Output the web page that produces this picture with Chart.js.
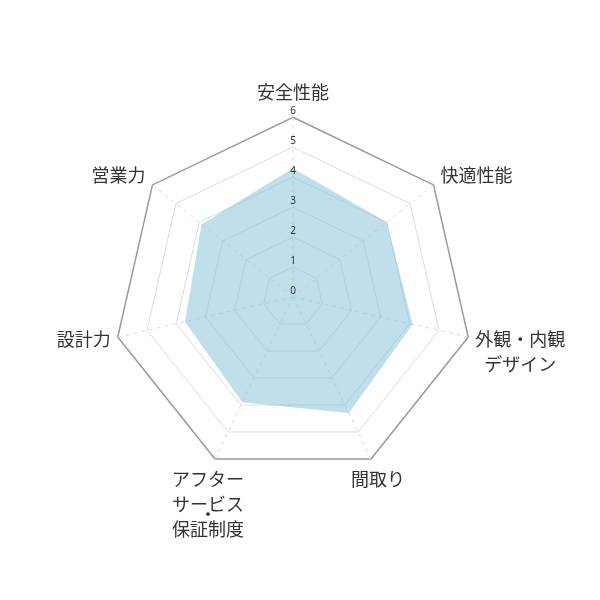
<!DOCTYPE html>
<html lang="ja">
<head>
<meta charset="utf-8">
<script src="https://cdn.jsdelivr.net/npm/chart.js@4.4.1/dist/chart.umd.min.js"></script>
<style>
  html, body { margin: 0; padding: 0; background: #fff; }
  .chart-container { width: 600px; height: 600px; }
</style>
</head>
<body>
<div class="chart-container"><canvas id="myChart"></canvas></div>
<script>
const categories = ['安全性能', '快適性能', ['外観・内観', 'デザイン'], '間取り', ['アフター', 'サービス', '・', '保証制度'], '設計力', '営業力'];
const scores = [4.3, 4.0, 4.1, 4.3, 3.9, 3.7, 3.9];
const tickValues = [0, 1, 2, 3, 4, 5, 6];

const fontFamily = "'Noto Sans CJK JP', 'Noto Sans', sans-serif";
const lineH = 25;

// chart.js sizes the label boxes; the dot line is squeezed in between, so leave it out there
const layoutLabels = categories.map(c => Array.isArray(c) ? c.filter(l => l !== '・') : c);

// draw the point labels (lines centred in their block) and the ticks a bit above the rings
const labelPlugin = {
  id: 'centredLabels',
  afterDatasetsDraw(chart) {
    const scale = chart.scales.r;
    const ctx = chart.ctx;
    ctx.save();
    ctx.textAlign = 'center';
    ctx.textBaseline = 'middle';
    ctx.fillStyle = '#333';

    ctx.font = "10px 'Noto Sans', sans-serif";
    tickValues.forEach(v => {
      const d = scale.getDistanceFromCenterForValue(v);
      ctx.fillText(String(v), scale.xCenter, scale.yCenter - d - 6);
    });

    ctx.font = '18px ' + fontFamily;
    categories.forEach((cat, i) => {
      const lines = [].concat(cat);
      const v = scale.getPointPosition(i, scale.drawingArea);
      const a = scale.getIndexAngle(i);
      const s = Math.sin(a), c = Math.cos(a);
      const w = Math.max(...lines.map(l => ctx.measureText(l).width));

      let cx;
      if (Math.abs(s) < 0.1) cx = v.x;
      else if (Math.abs(s) > 0.5) cx = v.x + Math.sign(s) * (7 + w / 2);
      else cx = v.x + Math.sign(s) * 7;

      let y;
      if (c > 0.9) y = v.y - 25;
      else if (c > 0) y = v.y - 10;
      else if (c > -0.5) y = v.y + 2;
      else y = v.y + 20;

      lines.forEach(line => {
        if (line === '・') {
          ctx.fillText(line, cx, y - lineH + 10);
          return;
        }
        ctx.fillText(line, cx, y);
        y += lineH;
      });
    });
    ctx.restore();
  }
};

const ctx = document.getElementById('myChart');
new Chart(ctx, {
  type: 'radar',
  data: {
    labels: layoutLabels,
    datasets: [{
      data: scores,
      backgroundColor: 'rgba(127, 193, 213, 0.5)',
      borderWidth: 0,
      pointRadius: 0
    }]
  },
  options: {
    responsive: true,
    maintainAspectRatio: false,
    animation: false,
    layout: { padding: { left: 37, right: 14, top: 37, bottom: 14 } },
    plugins: {
      legend: { display: false },
      tooltip: { enabled: false }
    },
    scales: {
      r: {
        min: 0,
        max: 6,
        ticks: { stepSize: 1, display: false },
        grid: {
          color: c => c.index === 6 ? '#999' : '#dcdcdc',
          lineWidth: c => c.index === 6 ? 1.5 : 1
        },
        angleLines: {
          color: '#dcdcdc',
          borderDash: [4, 4]
        },
        pointLabels: {
          color: 'rgba(0,0,0,0)',
          padding: 10,
          font: { size: 18, family: fontFamily, lineHeight: 25 / 18 }
        }
      }
    }
  },
  plugins: [labelPlugin]
});
</script>
</body>
</html>
